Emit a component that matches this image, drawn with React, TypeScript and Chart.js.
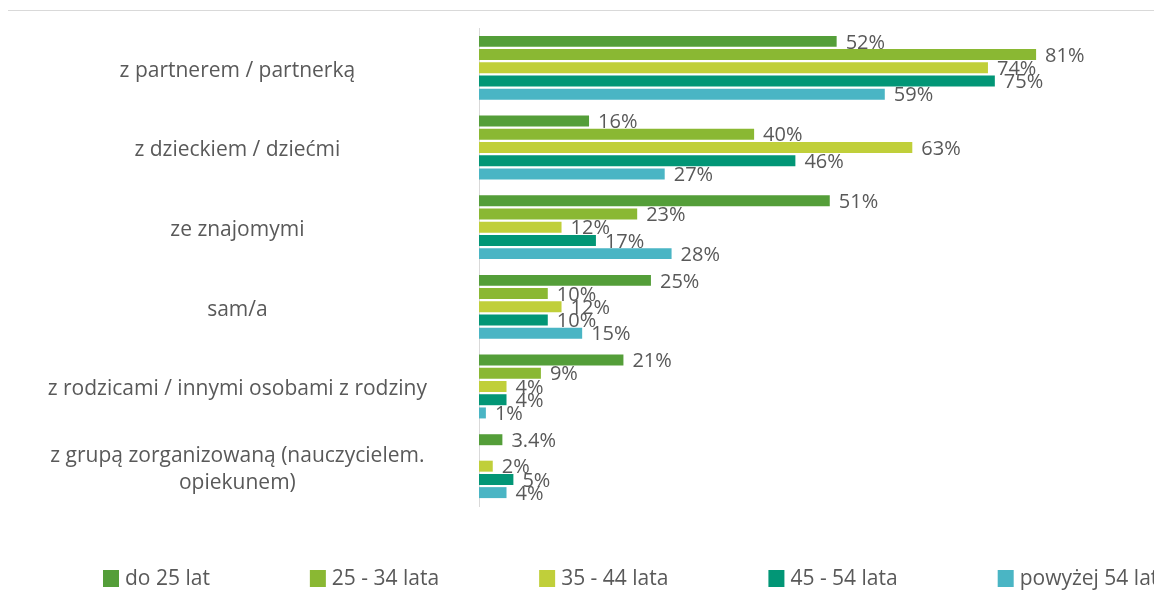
import React, { useEffect, useRef } from "react";
import { Chart, registerables } from "chart.js";

Chart.register(...registerables);

const categories: (string | string[])[] = [
  "z partnerem / partnerką",
  "z dzieckiem / dziećmi",
  "ze znajomymi",
  "sam/a",
  "z rodzicami / innymi osobami z rodziny",
  ["z grupą zorganizowaną (nauczycielem.", "opiekunem)"],
];

const seriesNames = ["do 25 lat", "25 - 34 lata", "35 - 44 lata", "45 - 54 lata", "powyżej 54 lat"];

const do25 = [52, 16, 51, 25, 21, 3.4];
const age25to34 = [81, 40, 23, 10, 9, null];
const age35to44 = [74, 63, 12, 12, 4, 2];
const age45to54 = [75, 46, 17, 10, 4, 5];
const over54 = [59, 27, 28, 15, 1, 4];

const seriesValues = [do25, age25to34, age35to44, age45to54, over54];
const seriesColors = ["#549E39", "#8AB833", "#C0CF3A", "#029676", "#4AB5C4"];

const FONT = "'Open Sans', 'DejaVu Sans', sans-serif";
const TEXT_COLOR = "#595959";

const valueLabelPlugin = {
  id: "valueLabels",
  afterDatasetsDraw(chart: any) {
    const ctx = chart.ctx;
    ctx.save();
    ctx.font = `20px ${FONT}`;
    ctx.fillStyle = TEXT_COLOR;
    ctx.textAlign = "left";
    ctx.textBaseline = "middle";
    chart.data.datasets.forEach((ds: any, i: number) => {
      const meta = chart.getDatasetMeta(i);
      meta.data.forEach((bar: any, j: number) => {
        const v = ds.data[j];
        if (v === null || v === undefined) return;
        ctx.fillText(`${v}%`, bar.x + 9, bar.y + 1.5);
      });
    });
    ctx.restore();
  },
};

const LEGEND_START = 95;
const LEGEND_GAP = 100;
const LEGEND_BOX = 16;

const legendPlugin = {
  id: "wideLegend",
  afterDraw(chart: any) {
    const ctx = chart.ctx;
    ctx.save();
    ctx.font = `21px ${FONT}`;
    ctx.textAlign = "left";
    ctx.textBaseline = "middle";
    const cy = chart.chartArea.bottom + 72;
    let x = LEGEND_START;
    chart.data.datasets.forEach((ds: any) => {
      ctx.fillStyle = ds.backgroundColor;
      ctx.fillRect(x, cy - LEGEND_BOX / 2, LEGEND_BOX, LEGEND_BOX + 1);
      ctx.fillStyle = TEXT_COLOR;
      const tx = x + LEGEND_BOX + 6;
      ctx.fillText(ds.label, tx, cy + 1);
      x = tx + ctx.measureText(ds.label).width + LEGEND_GAP;
    });
    ctx.restore();
  },
};

export default function App() {
  const ref = useRef<HTMLCanvasElement | null>(null);

  useEffect(() => {
    if (!ref.current) return;
    const chart = new Chart(ref.current, {
      type: "bar",
      data: {
        labels: categories,
        datasets: seriesNames.map((name, i) => ({
          label: name,
          data: seriesValues[i],
          backgroundColor: seriesColors[i],
          borderWidth: 0,
          categoryPercentage: 0.83,
          barPercentage: 0.83,
        })),
      },
      options: {
        indexAxis: "y",
        animation: false,
        responsive: true,
        maintainAspectRatio: false,
        layout: { padding: { top: 17, right: 62, bottom: 111, left: 0 } },
        plugins: {
          legend: { display: false },
          tooltip: { enabled: false },
        },
        scales: {
          x: {
            display: false,
            min: 0,
            max: 90,
          },
          y: {
            grid: { display: false, drawTicks: false },
            border: { display: true, color: "#d9d9d9", width: 1 },
            afterFit(scale: any) {
              scale.width = 471;
              scale.paddingTop = 0;
              scale.paddingBottom = 0;
            },
            ticks: {
              crossAlign: "center",
              padding: 52,
              labelOffset: 3,
              color: TEXT_COLOR,
              font: { family: FONT, size: 21, lineHeight: 1.3 },
            },
          },
        },
      },
      plugins: [valueLabelPlugin, legendPlugin],
    });
    return () => chart.destroy();
  }, []);

  return (
    <div
      style={{
        position: "relative",
        top: 2,
        left: -1,
        width: 1152,
        height: 606,
        border: "1px solid #d9d9d9",
        background: "#fff",
      }}
    >
      <canvas ref={ref} />
    </div>
  );
}
